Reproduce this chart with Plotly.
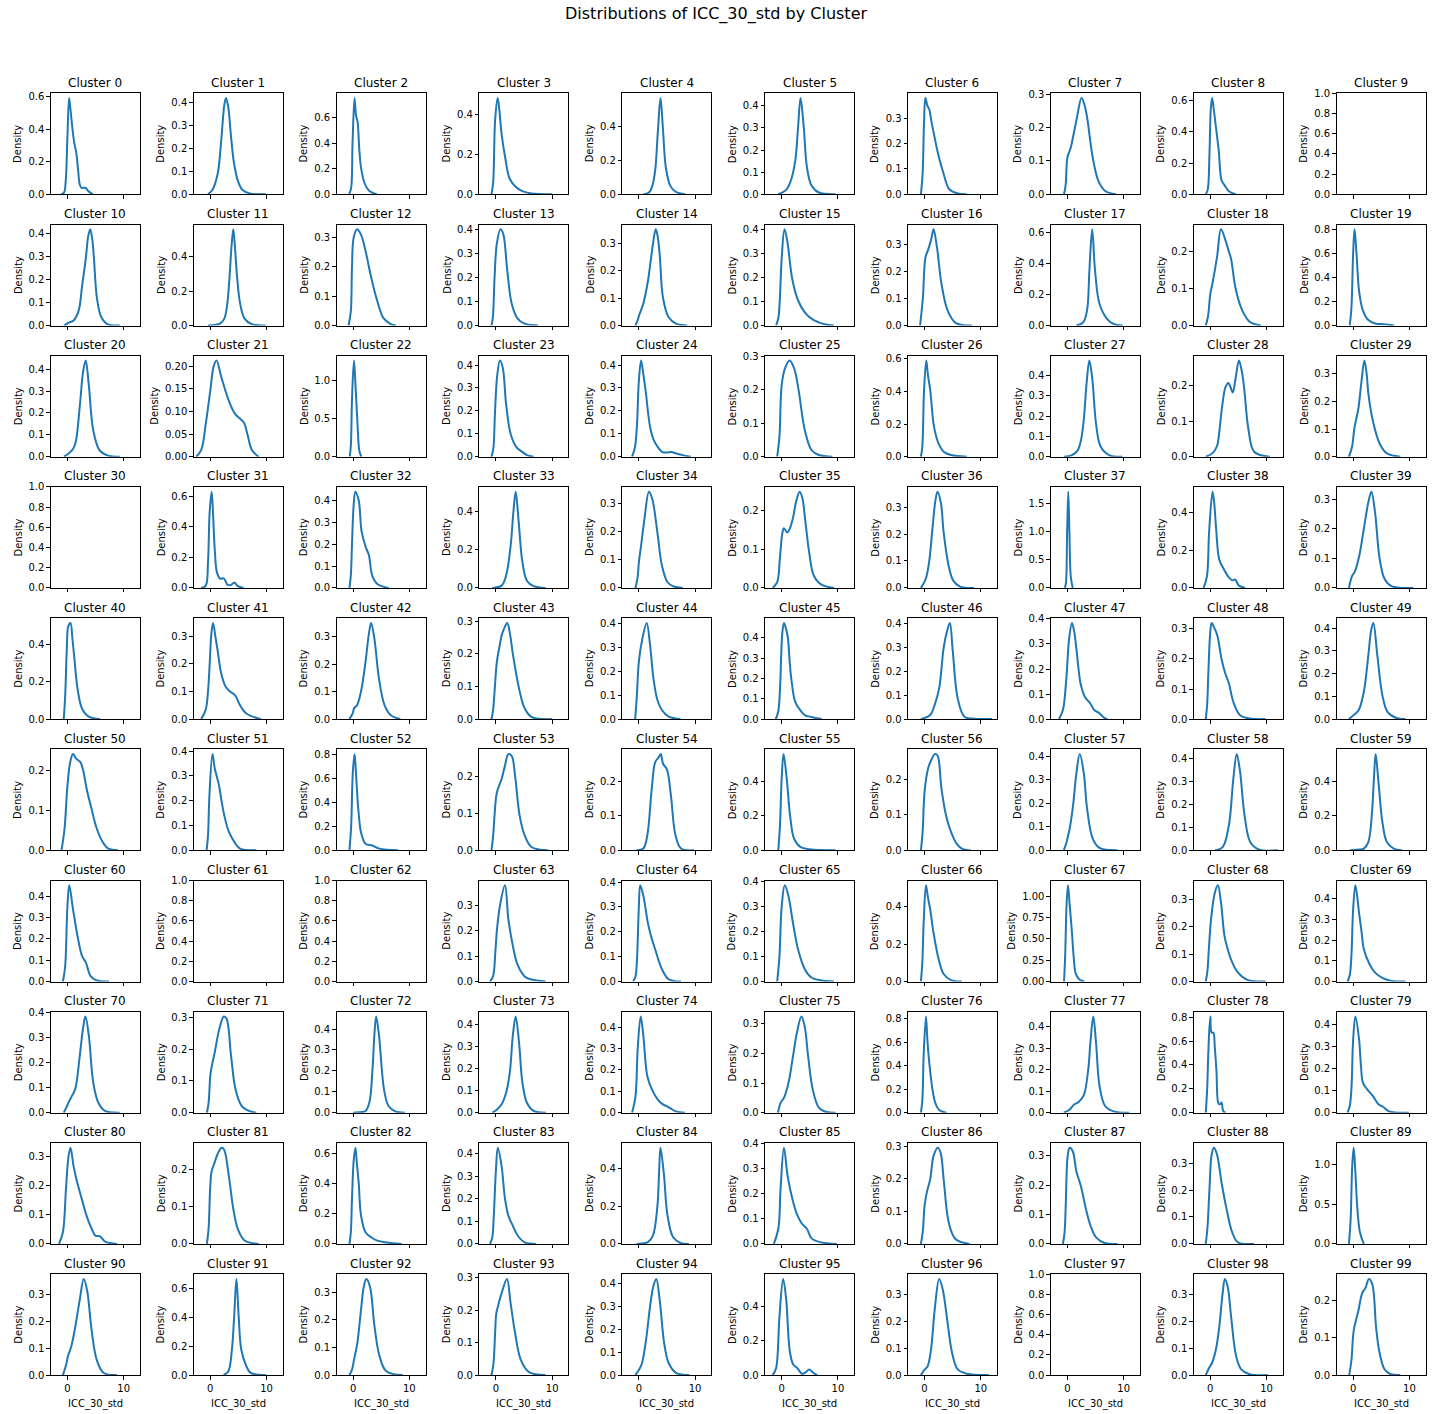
import math
import plotly.graph_objects as go

# ---------------- data ----------------
TITLE = "Distributions of ICC_30_std by Cluster"
X_LABEL = "ICC_30_std"
Y_LABEL = "Density"
N_CLUSTERS = 100
EMPTY_CLUSTERS = [9, 30, 61, 62, 97]
X_TICKS = [0, 10]
X_RANGE = [-2.95, 12.87]

# KDE curve key points per cluster: (ICC_30_std value, density)
KDE_ROW_0 = {
    0: [(-1.1,0),(-0.6,0.01),(-0.3,0.08),(0.0,0.35),(0.3,0.59),(0.55,0.52),(0.9,0.4),(1.2,0.32),(1.6,0.25),(1.9,0.15),(2.2,0.06),(2.5,0.04),(3.2,0.04),(3.7,0.02),(4.5,0)],
    1: [(-0.4,0),(0.4,0.02),(0.9,0.05),(1.4,0.1),(2.0,0.25),(2.5,0.39),(2.8,0.42),(3.2,0.38),(3.7,0.25),(4.2,0.14),(4.9,0.06),(5.7,0.02),(7.0,0.004),(9.9,0)],
    2: [(-0.7,0),(-0.35,0.05),(-0.1,0.4),(0.25,0.75),(0.5,0.62),(0.8,0.56),(1.1,0.35),(1.4,0.21),(2.0,0.09),(2.8,0.03),(4.2,0)],
    3: [(-0.8,0),(-0.5,0.06),(-0.15,0.37),(0.3,0.48),(0.6,0.42),(1.0,0.3),(1.6,0.19),(2.4,0.08),(3.4,0.04),(4.6,0.017),(6.3,0.004),(10,0)],
    4: [(0.8,0),(1.8,0.01),(2.4,0.05),(2.9,0.14),(3.4,0.38),(3.85,0.57),(4.3,0.38),(4.8,0.16),(5.6,0.05),(6.6,0.014),(8.2,0)],
    5: [(-0.6,0),(0.8,0.02),(1.6,0.06),(2.4,0.15),(2.9,0.3),(3.35,0.435),(3.9,0.31),(4.5,0.12),(5.3,0.04),(6.6,0.008),(9.6,0)],
    6: [(-0.65,0),(-0.35,0.08),(-0.1,0.28),(0.15,0.38),(0.5,0.35),(0.85,0.335),(1.2,0.29),(1.65,0.24),(2.4,0.16),(3.4,0.08),(4.4,0.02),(5.9,0.003),(7.5,0)],
    7: [(-0.6,0),(-0.3,0.03),(0,0.11),(0.6,0.14),(1.1,0.18),(1.7,0.23),(2.5,0.288),(3.0,0.27),(3.5,0.23),(4.5,0.11),(5.5,0.04),(6.7,0.01),(8.6,0)],
    8: [(-0.8,0),(-0.45,0.03),(-0.15,0.25),(0.1,0.55),(0.33,0.615),(0.6,0.55),(0.9,0.46),(1.5,0.28),(2.0,0.09),(2.5,0.06),(3.3,0.02),(4.5,0)],
}
KDE_ROW_1 = {
    10: [(-0.6,0),(0.2,0.012),(1.1,0.022),(2.0,0.065),(2.6,0.17),(3.3,0.3),(3.7,0.39),(4.05,0.42),(4.4,0.38),(4.7,0.3),(5.25,0.12),(6.0,0.038),(7.1,0.006),(9.3,0)],
    11: [(-0.4,0),(1.0,0.005),(1.8,0.012),(2.5,0.04),(3.0,0.12),(3.4,0.27),(3.8,0.47),(4.1,0.56),(4.4,0.45),(4.8,0.27),(5.3,0.13),(6.1,0.04),(7.4,0.008),(9.8,0)],
    12: [(-0.8,0),(-0.4,0.05),(-0.2,0.2),(0.1,0.3),(0.7,0.328),(1.4,0.31),(2.2,0.255),(3.2,0.165),(4.2,0.09),(5.4,0.025),(6.7,0.005),(7.6,0)],
    13: [(-0.8,0),(-0.55,0.035),(-0.25,0.2),(0.15,0.34),(0.8,0.4),(1.3,0.38),(2.0,0.23),(2.8,0.09),(3.8,0.03),(5.1,0.008),(7.5,0)],
    14: [(-0.6,0),(-0.2,0.02),(0.1,0.04),(0.8,0.08),(1.6,0.16),(2.4,0.28),(3.0,0.35),(3.3,0.33),(3.7,0.26),(4.3,0.1),(5.3,0.03),(6.6,0.007),(8.6,0)],
    15: [(-1.0,0),(-0.6,0.03),(-0.35,0.1),(0,0.28),(0.5,0.4),(1.0,0.35),(1.9,0.19),(2.9,0.105),(4.1,0.055),(5.7,0.022),(7.8,0.004),(9.3,0)],
    16: [(-0.8,0),(-0.3,0.1),(0.15,0.25),(0.65,0.28),(1.2,0.32),(1.6,0.355),(2.2,0.29),(3.0,0.155),(4.1,0.055),(5.5,0.01),(8.4,0)],
    17: [(1.6,0),(2.8,0.02),(3.5,0.1),(3.9,0.35),(4.4,0.62),(4.9,0.36),(5.7,0.14),(7.0,0.045),(8.2,0.01),(9.8,0)],
    18: [(-0.8,0),(-0.4,0.025),(0,0.085),(0.4,0.115),(1.2,0.185),(1.9,0.26),(2.7,0.23),(3.3,0.2),(3.7,0.18),(4.5,0.1),(5.7,0.04),(7.0,0.01),(9.0,0)],
    19: [(-0.6,0),(-0.3,0.15),(0,0.6),(0.25,0.8),(0.6,0.6),(1.05,0.29),(1.7,0.13),(2.7,0.045),(3.9,0.017),(5.5,0.01),(7.3,0)],
}
KDE_ROW_2 = {
    20: [(-0.6,0),(0.2,0.015),(1.0,0.035),(1.5,0.07),(2.2,0.23),(2.8,0.39),(3.25,0.44),(3.8,0.33),(4.6,0.12),(5.7,0.03),(7.1,0.006),(9.3,0)],
    21: [(-2.5,0),(-1.6,0.015),(-0.8,0.073),(0,0.146),(0.6,0.2),(1.1,0.213),(2.0,0.175),(3.3,0.124),(4.4,0.095),(5.4,0.083),(6.0,0.075),(6.6,0.05),(7.4,0.015),(8.6,0)],
    22: [(-0.6,0),(-0.4,0.15),(-0.2,0.75),(0.15,1.26),(0.45,0.9),(0.8,0.4),(1.1,0.08),(1.45,0)],
    23: [(-0.8,0),(-0.45,0.04),(-0.2,0.18),(0.2,0.35),(0.7,0.42),(1.2,0.39),(1.8,0.23),(2.6,0.1),(3.6,0.043),(4.6,0.022),(5.5,0.007),(6.7,0)],
    24: [(-1.2,0),(-0.7,0.04),(-0.35,0.13),(0,0.33),(0.4,0.42),(0.8,0.36),(1.2,0.29),(2.0,0.13),(2.7,0.07),(3.3,0.045),(4.2,0.02),(5.0,0.018),(5.8,0.02),(6.5,0.015),(7.8,0.007),(9.2,0)],
    25: [(-0.8,0),(-0.4,0.06),(0,0.215),(0.6,0.265),(1.4,0.288),(2.2,0.265),(3.0,0.2),(4.1,0.08),(5.3,0.02),(6.6,0.005),(9,0)],
    26: [(-0.65,0),(-0.4,0.06),(-0.1,0.4),(0.3,0.59),(0.6,0.5),(1.0,0.41),(1.6,0.2),(2.1,0.12),(2.5,0.08),(3.4,0.03),(4.7,0.01),(7.5,0)],
    27: [(-0.6,0),(0.8,0.008),(1.8,0.03),(2.4,0.08),(2.9,0.18),(3.4,0.36),(3.9,0.475),(4.4,0.39),(5.1,0.16),(5.9,0.05),(7.4,0.008),(9.8,0)],
    28: [(-0.8,0),(0.4,0.01),(1.2,0.03),(1.6,0.07),(2.1,0.14),(2.7,0.195),(3.2,0.207),(3.6,0.195),(4.0,0.18),(4.5,0.22),(5.1,0.27),(5.6,0.24),(6.0,0.195),(6.8,0.075),(7.8,0.014),(10.6,0)],
    29: [(-0.75,0),(-0.2,0.035),(0.25,0.107),(0.9,0.17),(1.5,0.275),(2.0,0.348),(2.4,0.3),(2.7,0.23),(3.5,0.13),(4.7,0.048),(6.0,0.012),(8.4,0)],
}
KDE_ROW_3 = {
    31: [(-1.6,0),(-0.8,0.015),(-0.4,0.17),(-0.1,0.5),(0.25,0.63),(0.5,0.48),(0.8,0.25),(1.2,0.1),(1.8,0.06),(2.4,0.063),(3.1,0.02),(3.7,0.02),(4.3,0.033),(4.9,0.012),(5.9,0)],
    32: [(-0.65,0),(-0.4,0.06),(-0.2,0.2),(0.1,0.38),(0.4,0.44),(1.0,0.4),(1.5,0.26),(2.2,0.19),(2.8,0.15),(3.4,0.056),(4.3,0.018),(6.3,0)],
    33: [(-0.65,0),(1.0,0.012),(1.8,0.065),(2.6,0.22),(3.1,0.4),(3.5,0.505),(4.0,0.36),(4.7,0.135),(5.5,0.038),(6.7,0.009),(8.8,0)],
    34: [(-0.6,0),(-0.2,0.04),(0,0.09),(0.4,0.15),(1.0,0.245),(1.8,0.342),(2.4,0.315),(3.3,0.197),(4.1,0.08),(5.1,0.02),(6.2,0.005),(7.8,0)],
    35: [(-1.6,0),(-0.8,0.015),(-0.3,0.08),(0.1,0.14),(0.4,0.154),(1.0,0.143),(1.5,0.155),(2.0,0.18),(2.6,0.225),(3.2,0.248),(3.7,0.23),(4.1,0.185),(4.9,0.09),(5.7,0.032),(7.0,0.009),(9.3,0)],
    36: [(-0.65,0),(0.2,0.033),(0.8,0.095),(1.4,0.22),(1.9,0.32),(2.3,0.357),(2.9,0.316),(3.4,0.205),(4.3,0.08),(5.1,0.027),(6.3,0.005),(8.8,0)],
    37: [(-0.45,0),(-0.25,0.1),(-0.05,1.0),(0.15,1.7),(0.35,1.0),(0.6,0.2),(0.95,0)],
    38: [(-1.2,0),(-0.6,0.06),(-0.2,0.3),(0.4,0.51),(0.7,0.45),(1.05,0.31),(1.6,0.15),(2.4,0.1),(3.3,0.056),(3.9,0.04),(4.4,0.045),(5.1,0.012),(6.2,0)],
    39: [(-0.75,0),(-0.2,0.04),(0.3,0.055),(1.1,0.11),(1.9,0.2),(2.7,0.29),(3.25,0.326),(3.9,0.255),(4.7,0.1),(5.6,0.03),(6.8,0.006),(10.7,0)],
}
KDE_ROW_4 = {
    40: [(-0.65,0),(-0.4,0.12),(-0.1,0.38),(0.15,0.5),(0.55,0.518),(0.9,0.43),(1.2,0.34),(1.8,0.165),(2.6,0.057),(3.8,0.013),(5.8,0)],
    41: [(-1.6,0),(-0.8,0.035),(-0.4,0.1),(-0.1,0.2),(0.2,0.31),(0.5,0.348),(0.9,0.3),(1.3,0.25),(2.0,0.16),(2.8,0.115),(3.5,0.1),(4.4,0.087),(5.3,0.05),(6.4,0.02),(9.0,0)],
    42: [(-0.65,0),(-0.1,0.02),(0.2,0.04),(0.7,0.05),(1.4,0.1),(2.2,0.207),(2.8,0.31),(3.2,0.35),(3.8,0.29),(4.6,0.147),(5.6,0.05),(6.7,0.014),(8.4,0)],
    43: [(-0.8,0),(-0.5,0.03),(-0.25,0.085),(0.15,0.175),(0.6,0.22),(1.0,0.256),(1.5,0.28),(2.0,0.295),(2.5,0.26),(3.0,0.2),(4.1,0.094),(5.1,0.033),(6.3,0.007),(10,0)],
    44: [(-0.65,0),(-0.35,0.1),(0,0.24),(0.6,0.335),(1.4,0.404),(2.0,0.31),(2.6,0.17),(3.3,0.08),(4.1,0.038),(5.3,0.01),(7.4,0)],
    45: [(-1.05,0),(-0.6,0.04),(-0.3,0.15),(0.1,0.42),(0.4,0.473),(0.8,0.44),(1.1,0.4),(1.4,0.29),(1.7,0.2),(2.4,0.085),(3.3,0.044),(4.1,0.02),(5.3,0.01),(7.1,0)],
    46: [(-0.65,0),(1.0,0.017),(1.8,0.06),(2.6,0.13),(3.4,0.3),(4.0,0.37),(4.5,0.404),(5.0,0.29),(5.9,0.086),(7.1,0.01),(9,0.002),(12,0)],
    47: [(-1.5,0),(-0.8,0.036),(-0.2,0.16),(0.3,0.32),(0.8,0.384),(1.2,0.35),(1.6,0.28),(2.4,0.135),(3.2,0.085),(4.0,0.065),(4.8,0.035),(5.6,0.025),(6.5,0.006),(7.1,0)],
    48: [(-0.8,0),(-0.55,0.05),(-0.35,0.15),(0,0.29),(0.25,0.32),(0.8,0.3),(1.3,0.275),(2.0,0.2),(2.7,0.15),(3.3,0.12),(4.1,0.057),(5.3,0.013),(7,0.002),(9.8,0)],
    49: [(-0.75,0),(0.2,0.02),(1.0,0.04),(1.9,0.12),(2.7,0.28),(3.2,0.39),(3.6,0.423),(4.3,0.28),(5.2,0.105),(6.1,0.032),(7.6,0.006),(9.3,0)],
}
KDE_ROW_5 = {
    50: [(-1.05,0),(-0.5,0.055),(0,0.16),(0.5,0.22),(1.0,0.24),(1.6,0.228),(2.3,0.22),(2.8,0.2),(3.4,0.155),(4.3,0.103),(5.2,0.055),(6.3,0.02),(7.3,0.004),(9.0,0)],
    51: [(-0.65,0),(-0.4,0.06),(-0.15,0.22),(0.4,0.388),(0.8,0.33),(1.5,0.268),(2.0,0.2),(2.5,0.14),(3.3,0.075),(4.3,0.033),(5.3,0.007),(8.2,0)],
    52: [(-0.65,0),(-0.35,0.2),(-0.05,0.65),(0.25,0.8),(0.5,0.65),(0.75,0.45),(1.0,0.3),(1.4,0.15),(2.2,0.055),(3.4,0.04),(4.7,0.014),(8,0)],
    53: [(-0.8,0),(-0.5,0.04),(-0.25,0.095),(0.15,0.155),(1.0,0.192),(1.6,0.228),(2.2,0.259),(2.8,0.254),(3.4,0.2),(4.2,0.094),(5.1,0.04),(6.3,0.009),(9.2,0)],
    54: [(-0.4,0),(0.8,0.005),(1.5,0.043),(2.3,0.18),(2.9,0.256),(3.5,0.27),(3.9,0.28),(4.3,0.252),(5.0,0.235),(5.7,0.16),(6.5,0.045),(7.5,0.005),(9.8,0)],
    55: [(-0.6,0),(-0.3,0.15),(0,0.42),(0.33,0.56),(0.9,0.415),(1.5,0.2),(2.2,0.068),(3.3,0.02),(4.9,0.006),(9.6,0)],
    56: [(-0.65,0),(-0.35,0.05),(0,0.165),(0.6,0.23),(1.15,0.254),(1.8,0.272),(2.3,0.268),(3.0,0.175),(3.8,0.1),(4.7,0.052),(5.7,0.019),(6.7,0.004),(8.2,0)],
    57: [(-0.65,0),(-0.2,0.03),(0,0.05),(0.4,0.092),(1.0,0.19),(1.6,0.33),(2.2,0.41),(2.9,0.33),(3.5,0.177),(4.5,0.05),(5.7,0.01),(8.9,0)],
    58: [(0.8,0),(2.2,0.014),(3.3,0.108),(4.1,0.31),(4.7,0.417),(5.3,0.34),(6.1,0.15),(7.1,0.036),(8.6,0.004),(12,0)],
    59: [(-0.6,0),(1.0,0.004),(1.9,0.01),(2.7,0.048),(3.35,0.22),(3.7,0.42),(4.0,0.56),(4.5,0.4),(5.2,0.164),(6.0,0.048),(7.2,0.01),(8.7,0)],
}
KDE_ROW_6 = {
    60: [(-0.8,0),(-0.4,0.07),(0,0.35),(0.33,0.45),(1.0,0.338),(1.8,0.213),(2.6,0.12),(3.3,0.088),(4.1,0.026),(5.1,0.006),(7.4,0)],
    63: [(-1.05,0),(-0.5,0.022),(-0.1,0.12),(0.2,0.21),(0.8,0.31),(1.6,0.378),(2.2,0.245),(3.0,0.14),(3.8,0.068),(5.1,0.02),(6.3,0.008),(8.8,0)],
    64: [(-1.0,0),(-0.6,0.02),(-0.35,0.08),(0,0.3),(0.25,0.387),(0.8,0.345),(1.6,0.236),(2.2,0.18),(2.9,0.13),(4.1,0.05),(5.3,0.009),(7.5,0)],
    65: [(-0.8,0),(-0.4,0.1),(0,0.3),(0.55,0.383),(1.2,0.34),(2.0,0.234),(2.9,0.128),(4.1,0.049),(5.3,0.016),(7.0,0.004),(9.3,0)],
    66: [(-0.65,0),(-0.4,0.1),(-0.15,0.32),(0.25,0.515),(0.6,0.45),(1.0,0.386),(1.6,0.26),(2.5,0.12),(3.4,0.04),(4.7,0.007),(6.6,0)],
    67: [(-0.6,0),(-0.4,0.3),(-0.15,0.9),(0.1,1.13),(0.4,0.9),(0.8,0.58),(1.1,0.3),(1.5,0.09),(2.2,0.02),(3.0,0)],
    68: [(-0.8,0),(-0.5,0.04),(-0.25,0.12),(0.15,0.23),(0.8,0.324),(1.35,0.352),(1.9,0.29),(2.5,0.17),(3.0,0.125),(3.7,0.08),(4.9,0.033),(6.6,0.006),(9.8,0)],
    69: [(-1.0,0),(-0.6,0.03),(-0.3,0.13),(0.0,0.35),(0.4,0.466),(1.05,0.333),(1.5,0.24),(1.9,0.156),(2.9,0.085),(3.9,0.043),(5.2,0.018),(6.8,0.003),(9.3,0)],
}
KDE_ROW_7 = {
    70: [(-0.65,0),(-0.2,0.02),(0.2,0.04),(0.8,0.067),(1.4,0.095),(2.2,0.227),(2.8,0.34),(3.2,0.384),(3.8,0.31),(4.6,0.12),(5.5,0.04),(6.7,0.007),(9.3,0)],
    71: [(-0.6,0),(-0.3,0.03),(0,0.115),(0.2,0.14),(0.8,0.19),(1.6,0.262),(2.4,0.302),(2.9,0.295),(3.7,0.178),(4.5,0.073),(5.6,0.021),(7.0,0.005),(8.2,0)],
    72: [(0,0),(1.5,0.003),(2.2,0.008),(2.9,0.05),(3.45,0.21),(3.8,0.38),(4.1,0.46),(4.6,0.37),(5.5,0.11),(6.3,0.032),(7.5,0.006),(9.2,0)],
    73: [(-0.65,0),(0.2,0.015),(1.0,0.038),(1.8,0.09),(2.45,0.18),(3.0,0.35),(3.5,0.436),(4.1,0.318),(4.7,0.136),(5.5,0.045),(6.7,0.008),(8.9,0)],
    74: [(-1.2,0),(-0.6,0.075),(-0.2,0.3),(0.33,0.45),(0.8,0.36),(1.5,0.172),(2.3,0.11),(3.3,0.063),(4.2,0.04),(5.0,0.03),(5.7,0.019),(6.6,0.006),(8.2,0)],
    75: [(-0.65,0),(-0.2,0.033),(0.4,0.05),(1.2,0.1),(2.0,0.19),(2.7,0.27),(3.5,0.325),(4.1,0.29),(4.7,0.19),(5.5,0.08),(6.6,0.017),(7.8,0.003),(9.6,0)],
    76: [(-0.65,0),(-0.4,0.1),(-0.15,0.5),(0.25,0.817),(0.5,0.62),(0.85,0.42),(1.4,0.2),(1.9,0.085),(2.6,0.023),(3.9,0)],
    77: [(-0.65,0),(0.4,0.015),(1.2,0.038),(2.0,0.05),(2.9,0.08),(3.7,0.2),(4.1,0.33),(4.6,0.446),(5.1,0.32),(5.7,0.125),(6.7,0.031),(8.2,0.006),(11,0)],
    78: [(-0.8,0),(-0.55,0.2),(-0.35,0.5),(0.0,0.805),(0.25,0.67),(0.55,0.67),(0.8,0.55),(1.1,0.35),(1.45,0.08),(1.75,0.07),(2.0,0.085),(2.3,0.015),(2.7,0)],
    79: [(-1.0,0),(-0.6,0.03),(-0.3,0.11),(0.0,0.33),(0.4,0.436),(1.05,0.333),(1.4,0.21),(1.75,0.135),(2.5,0.106),(3.5,0.076),(4.5,0.038),(5.3,0.027),(6.4,0.006),(9.9,0)],
}
KDE_ROW_8 = {
    80: [(-1.5,0),(-0.8,0.04),(-0.25,0.19),(0.2,0.3),(0.55,0.33),(1.1,0.267),(1.6,0.222),(2.4,0.165),(3.4,0.097),(4.2,0.057),(5.0,0.028),(5.8,0.026),(6.7,0.008),(8.8,0)],
    81: [(-0.6,0),(-0.3,0.04),(0,0.156),(0.25,0.196),(0.8,0.22),(1.25,0.24),(2.0,0.259),(2.45,0.254),(3.3,0.183),(4.1,0.094),(4.9,0.04),(6.1,0.009),(8.6,0)],
    82: [(-0.65,0),(-0.4,0.08),(-0.2,0.3),(0.1,0.55),(0.4,0.637),(0.7,0.52),(1.0,0.4),(1.4,0.19),(2.2,0.077),(3.2,0.044),(4.3,0.022),(5.9,0.01),(8.6,0)],
    83: [(-1.05,0),(-0.65,0.03),(-0.4,0.12),(0,0.33),(0.33,0.425),(1.0,0.344),(1.6,0.2),(2.2,0.125),(3.0,0.08),(3.85,0.037),(5.1,0.007),(7.1,0)],
    84: [(-0.4,0),(1.0,0.004),(1.6,0.009),(2.5,0.044),(3.3,0.2),(3.6,0.38),(3.85,0.509),(4.45,0.37),(5.1,0.15),(6.1,0.035),(7.4,0.005),(8.9,0)],
    85: [(-1.4,0),(-0.6,0.06),(-0.2,0.22),(0.4,0.382),(1.05,0.27),(1.9,0.178),(2.7,0.118),(3.6,0.08),(4.5,0.059),(5.3,0.022),(6.8,0.007),(9.8,0)],
    86: [(-0.65,0),(-0.3,0.04),(0,0.117),(0.4,0.158),(1.0,0.198),(1.6,0.27),(2.35,0.295),(2.85,0.28),(3.45,0.188),(4.3,0.066),(5.5,0.015),(8.0,0)],
    87: [(-0.8,0),(-0.5,0.04),(-0.3,0.13),(0.05,0.3),(0.4,0.327),(0.95,0.315),(1.6,0.246),(2.4,0.196),(3.3,0.118),(4.1,0.062),(5.1,0.022),(6.6,0.003),(8.9,0)],
    88: [(-0.8,0),(-0.5,0.06),(-0.15,0.2),(0.25,0.332),(0.65,0.357),(1.2,0.332),(2.0,0.228),(2.9,0.129),(3.9,0.043),(4.9,0.006),(7.8,0)],
    89: [(-0.75,0),(-0.45,0.3),(-0.15,1.0),(0.1,1.21),(0.4,0.9),(0.7,0.5),(1.2,0.15),(1.9,0)],
}
KDE_ROW_9 = {
    90: [(-0.8,0),(-0.2,0.04),(0.1,0.07),(0.7,0.107),(1.3,0.168),(2.2,0.28),(2.9,0.357),(3.5,0.315),(4.3,0.168),(5.2,0.058),(6.4,0.009),(8.8,0)],
    91: [(2.35,0),(3.2,0.025),(3.85,0.18),(4.25,0.41),(4.65,0.67),(5.05,0.41),(5.5,0.18),(6.3,0.074),(7.2,0.016),(9.9,0)],
    92: [(-0.65,0),(-0.2,0.02),(0.2,0.06),(0.75,0.116),(1.4,0.236),(1.9,0.32),(2.35,0.348),(3.0,0.32),(3.8,0.176),(4.7,0.068),(5.9,0.014),(8.8,0)],
    93: [(-0.8,0),(-0.45,0.035),(-0.15,0.13),(0.05,0.19),(0.35,0.212),(1.0,0.253),(1.95,0.297),(2.6,0.222),(3.4,0.13),(4.4,0.048),(5.9,0.009),(8.8,0)],
    94: [(-0.65,0),(0.4,0.04),(1.2,0.14),(2.0,0.3),(2.6,0.39),(3.1,0.42),(3.7,0.33),(4.5,0.14),(5.3,0.053),(6.6,0.01),(9.0,0)],
    95: [(-1.6,0),(-1.0,0.04),(-0.4,0.34),(0.25,0.56),(0.8,0.44),(1.4,0.15),(2.0,0.065),(2.8,0.04),(3.6,0.008),(4.2,0.015),(4.9,0.033),(5.6,0.014),(6.3,0)],
    96: [(-0.65,0),(0,0.02),(0.55,0.033),(1.15,0.095),(1.8,0.242),(2.6,0.357),(3.25,0.316),(4.1,0.193),(4.9,0.082),(5.9,0.021),(7.5,0.005),(11.4,0)],
    98: [(-0.8,0),(-0.2,0.027),(0.3,0.045),(1.0,0.095),(1.6,0.18),(2.2,0.304),(2.6,0.357),(3.1,0.328),(3.7,0.218),(4.6,0.07),(5.5,0.021),(7.0,0.003),(10.2,0)],
    99: [(-0.7,0),(-0.3,0.04),(0.1,0.12),(0.9,0.171),(1.6,0.22),(2.2,0.235),(2.8,0.259),(3.4,0.245),(4.1,0.125),(4.7,0.06),(5.6,0.015),(6.6,0.003),(8.4,0)],
}

# ---------------- layout constants ----------------
W, H = 1432, 1414
N_COLS, N_ROWS = 10, 10
LEFT0, COL_PITCH, AX_W = 50.8, 142.86, 89.0
TOP0, ROW_PITCH, AX_H = 93.3, 131.2, 101.0
LINE_COLOR = "#1f77b4"
FONT = "DejaVu Sans"

curves = {}
for row_dict in (KDE_ROW_0, KDE_ROW_1, KDE_ROW_2, KDE_ROW_3, KDE_ROW_4,
                 KDE_ROW_5, KDE_ROW_6, KDE_ROW_7, KDE_ROW_8, KDE_ROW_9):
    curves.update(row_dict)


def nice_ticks(vmax):
    """Matplotlib-like MaxNLocator (5 bins, steps 1/2/2.5/5/10)."""
    raw = vmax / 5.0
    scale = 10 ** math.floor(math.log10(raw))
    step = None
    for s in [0.1, 0.2, 0.25, 0.5, 1, 2, 2.5, 5, 10, 20]:
        if s * scale >= raw - 1e-12:
            step = s * scale
            break
    n = int(math.floor(vmax / step + 1e-9))
    vals = [round(i * step, 10) for i in range(n + 1)]
    d = 0
    while abs(round(step * 10 ** d) - step * 10 ** d) > 1e-6 and d < 6:
        d += 1
    text = [f"{v:.{d}f}" for v in vals]
    return vals, text


def label_width(s):
    return sum(3.18 if ch == "." else 6.36 for ch in s)


def py(px):
    return 1 - px / H


def pxx(px):
    return px / W


fig = go.Figure()
layout = {}
annotations = []
axis_common = dict(
    showline=True, mirror=True, linecolor="black", linewidth=0.8,
    ticks="outside", ticklen=3.5, tickwidth=0.8, tickcolor="black",
    showgrid=False, zeroline=False, automargin=False,
    tickfont=dict(family=FONT, size=10, color="black"),
)

for cid in range(N_CLUSTERS):
    r, c = divmod(cid, N_COLS)
    k = cid + 1
    sx = "" if k == 1 else str(k)
    left = LEFT0 + c * COL_PITCH
    top = TOP0 + r * ROW_PITCH
    x_dom = [pxx(left), pxx(left + AX_W)]
    y_dom = [py(top + AX_H), py(top)]

    pts = curves.get(cid, [])
    xs = [p[0] for p in pts]
    ys = [p[1] for p in pts]
    fig.add_trace(go.Scatter(
        x=xs, y=ys, mode="lines", xaxis="x" + sx, yaxis="y" + sx,
        line=dict(color=LINE_COLOR, width=2.0, shape="spline", smoothing=1.0),
        showlegend=False, hoverinfo="x+y",
    ))

    ymax = 1.0 if not ys else max(ys) * 1.05
    tv, tt = nice_ticks(ymax)

    layout["xaxis" + sx] = dict(
        axis_common, domain=x_dom, range=X_RANGE, tickvals=X_TICKS,
        ticktext=[str(v) for v in X_TICKS], showticklabels=(r == N_ROWS - 1),
        anchor="y" + sx,
    )
    layout["yaxis" + sx] = dict(
        axis_common, domain=y_dom, range=[0, ymax], tickvals=tv, ticktext=tt,
        anchor="x" + sx,
    )

    annotations.append(dict(
        text=f"Cluster {cid}", x=pxx(left + AX_W / 2), y=py(top - 10.4),
        xref="paper", yref="paper", xanchor="center", yanchor="middle",
        showarrow=False, font=dict(family=FONT, size=12, color="black"),
    ))
    wmax = max(label_width(s) for s in tt)
    annotations.append(dict(
        text=Y_LABEL, x=pxx(left - (7 + wmax + 4 + 5.8)), y=py(top + AX_H / 2),
        xref="paper", yref="paper", xanchor="center", yanchor="middle",
        textangle=-90, showarrow=False, font=dict(family=FONT, size=10, color="black"),
    ))
    if r == N_ROWS - 1:
        annotations.append(dict(
            text=X_LABEL, x=pxx(left + AX_W / 2), y=py(top + AX_H + 28.5),
            xref="paper", yref="paper", xanchor="center", yanchor="middle",
            showarrow=False, font=dict(family=FONT, size=10, color="black"),
        ))

annotations.append(dict(
    text=TITLE, x=0.5, y=py(14), xref="paper", yref="paper",
    xanchor="center", yanchor="middle", showarrow=False,
    font=dict(family=FONT, size=16, color="black"),
))

fig.update_layout(
    width=W, height=H, margin=dict(l=0, r=0, t=0, b=0, pad=0, autoexpand=False),
    paper_bgcolor="white", plot_bgcolor="white",
    font=dict(family=FONT, size=10, color="black"),
    annotations=annotations, showlegend=False, **layout,
)

fig.write_html("out.html")
